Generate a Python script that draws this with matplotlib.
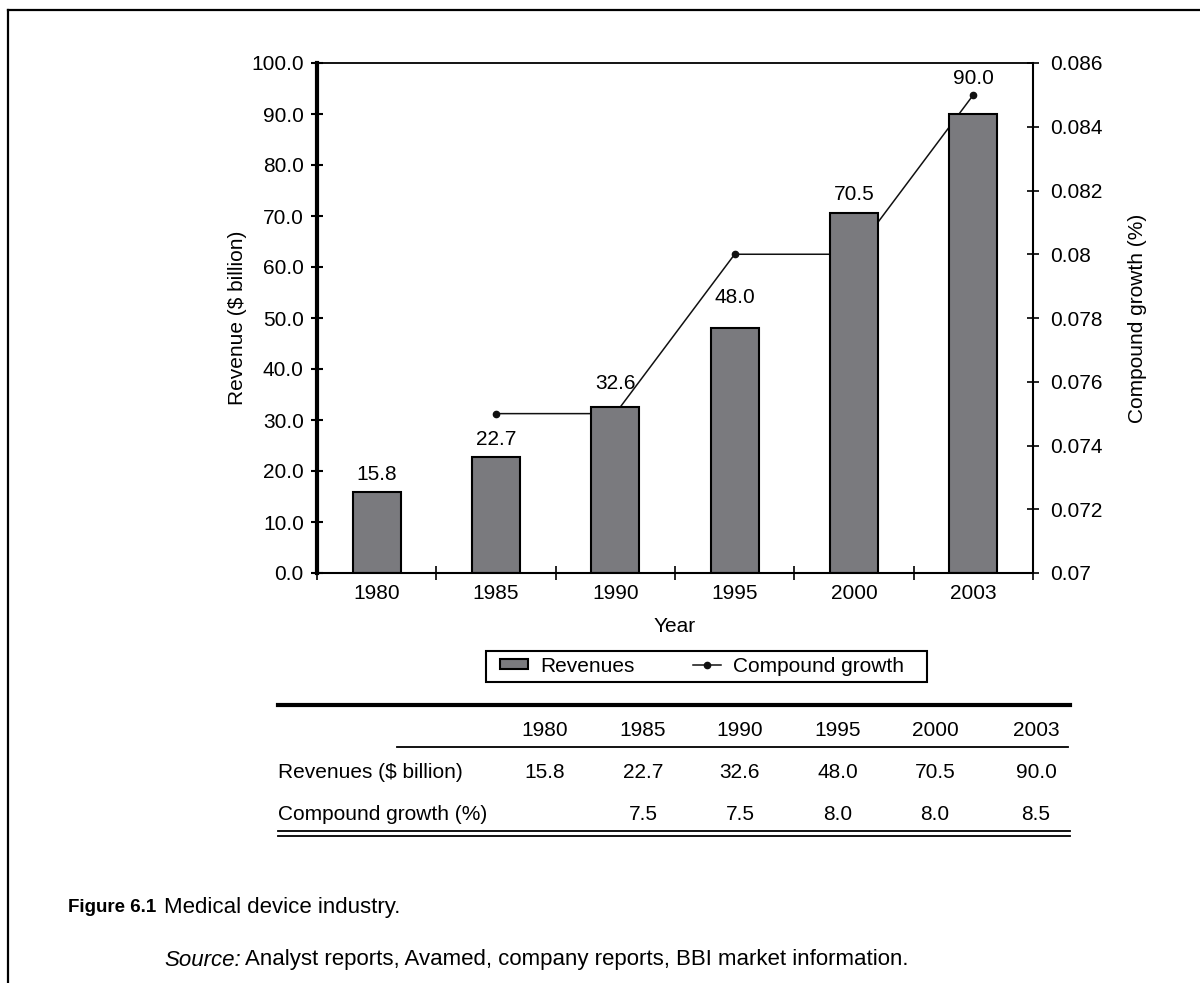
import matplotlib
matplotlib.use("Agg")
import matplotlib.pyplot as plt
from matplotlib.lines import Line2D
from matplotlib.patches import Rectangle
from matplotlib.ticker import FixedLocator

# data
years = ["1980", "1985", "1990", "1995", "2000", "2003"]
revenues = [15.8, 22.7, 32.6, 48.0, 70.5, 90.0]
growth_pct = [None, 7.5, 7.5, 8.0, 8.0, 8.5]
left_ticks = [0, 10, 20, 30, 40, 50, 60, 70, 80, 90, 100]
right_ticks = [0.07, 0.072, 0.074, 0.076, 0.078, 0.08, 0.082, 0.084, 0.086]

plt.rcParams["font.family"] = ["Liberation Sans", "DejaVu Sans"]
W, H = 1200, 983
bar_color = "#7a7a7e"
# label gap above each bar, in points (some were nudged clear of the line)
label_pad = [6, 6, 10, 15, 7, 19]


def fx(px):
    return px / W


def fy(py):
    return 1 - py / H


fig = plt.figure(figsize=(12, 9.83), dpi=100)
ax = fig.add_axes([fx(317), fy(573), fx(1033 - 317), (573 - 63) / H])
ax2 = ax.twinx()
# bars must sit in front of the growth line
ax.set_zorder(ax2.get_zorder() + 1)
ax.patch.set_visible(False)

x = list(range(len(years)))
bars = ax.bar(x, revenues, width=0.4, color=bar_color, edgecolor="black",
              linewidth=1.5, label="Revenues")
for xi, v, p in zip(x, revenues, label_pad):
    ax.annotate("%.1f" % v, (xi, v), xytext=(0, p), textcoords="offset points",
                ha="center", va="bottom", fontsize=15)

gx = [i for i, g in zip(x, growth_pct) if g is not None]
gy = [g / 100 for g in growth_pct if g is not None]
line, = ax2.plot(gx, gy, color="#111111", linewidth=1.1, marker="o",
                 markersize=4.5, label="Compound growth")

ax.set_xlim(-0.5, len(years) - 0.5)
ax.set_ylim(0, 100)
ax2.set_ylim(0.07, 0.086)

ax.set_xticks(x)
ax.set_xticklabels(years, fontsize=15)
ax.tick_params(axis="x", which="major", length=0, pad=8)
ax.xaxis.set_minor_locator(FixedLocator([i - 0.5 for i in range(len(years) + 1)]))
ax.tick_params(axis="x", which="minor", direction="inout", length=10, width=1.2)

ax.set_yticks(left_ticks)
ax.set_yticklabels(["%.1f" % v for v in left_ticks], fontsize=15)
ax.tick_params(axis="y", direction="inout", length=9, width=1.5, pad=5)

ax2.set_yticks(right_ticks)
ax2.set_yticklabels(["{:g}".format(v) for v in right_ticks], fontsize=15)
ax2.tick_params(axis="y", direction="inout", length=9, width=1.2, pad=8)

ax.spines["left"].set_linewidth(3)
ax.spines["bottom"].set_linewidth(1.5)
ax.spines["top"].set_linewidth(1.3)
ax.spines["right"].set_visible(False)
ax2.spines["right"].set_linewidth(1.5)
ax2.spines["left"].set_visible(False)
ax2.spines["top"].set_visible(False)
ax2.spines["bottom"].set_visible(False)

ax.set_xlabel("Year", fontsize=15, labelpad=10)
ax.set_ylabel("Revenue ($ billion)", fontsize=15, labelpad=3)
ax2.set_ylabel("Compound growth (%)", fontsize=15, labelpad=18)

leg = fig.legend([bars, line], ["Revenues", "Compound growth"], ncol=2,
                 loc="center", bbox_to_anchor=(fx(702), fy(666)), fontsize=15,
                 frameon=False, handlelength=1.35, handleheight=0.35,
                 handletextpad=0.6, columnspacing=2.8, borderpad=0.25,
                 borderaxespad=0)
fig.add_artist(Rectangle((fx(486), fy(682)), fx(927 - 486), (682 - 651) / H,
                         transform=fig.transFigure, fill=False,
                         edgecolor="black", linewidth=1.5))

# table under the chart
col_x = [545, 643, 740, 838, 935, 1036]


def hline(x0, x1, y, lw):
    fig.add_artist(Line2D([fx(x0), fx(x1)], [fy(y), fy(y)], color="black",
                          linewidth=lw, transform=fig.transFigure))


hline(278, 1070, 705, 3)
hline(397, 1068, 747, 1.3)
hline(278, 1070, 831, 1.3)
hline(278, 1070, 836, 1.3)

tfs = 15
for cx, yr, rv, gr in zip(col_x, years, revenues, growth_pct):
    fig.text(fx(cx), fy(731), yr, ha="center", va="center", fontsize=tfs)
    fig.text(fx(cx), fy(772), "%.1f" % rv, ha="center", va="center", fontsize=tfs)
    if gr is not None:
        fig.text(fx(cx), fy(814), "%.1f" % gr, ha="center", va="center", fontsize=tfs)
fig.text(fx(278), fy(772), "Revenues ($ billion)", ha="left", va="center", fontsize=tfs)
fig.text(fx(278), fy(814), "Compound growth (%)", ha="left", va="center", fontsize=tfs)

# caption
fig.text(fx(68), fy(907), "Figure 6.1", ha="left", va="center", fontsize=13.5,
         fontweight="bold")
fig.text(fx(164), fy(907), "Medical device industry.", ha="left", va="center",
         fontsize=16)
src = fig.text(fx(164), fy(960), "Source:", ha="left", va="center", fontsize=16,
               style="italic")
renderer = fig.canvas.get_renderer()
bb = src.get_window_extent(renderer)
fig.text(bb.x1 / W + fx(4), fy(960),
         "Analyst reports, Avamed, company reports, BBI market information.",
         ha="left", va="center", fontsize=16)

# page frame
fig.add_artist(Line2D([fx(8), 1], [fy(10), fy(10)], color="black", linewidth=1.6,
                      transform=fig.transFigure))
fig.add_artist(Line2D([fx(8), fx(8)], [0, fy(10)], color="black", linewidth=1.6,
                      transform=fig.transFigure))

fig.savefig("out.png", dpi=100)
